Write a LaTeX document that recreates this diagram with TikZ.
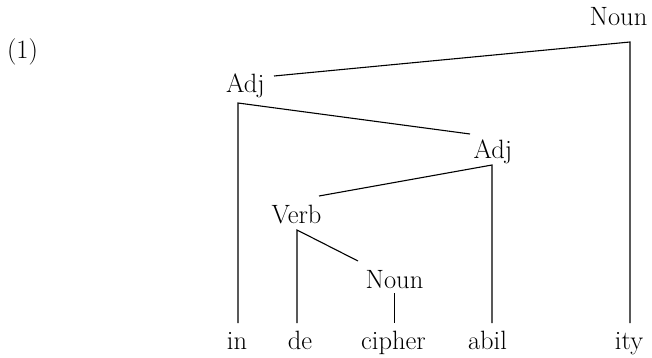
\documentclass[tikz,border=0pt]{standalone}
\begin{document}
\begin{tikzpicture}[x=1pt,y=-1pt,
  lbl/.style={anchor=base,inner sep=0pt,outer sep=0pt,font=\fontsize{26.5}{30}\selectfont},
  edge/.style={line width=1.1pt,line cap=butt,line join=miter}]
\useasboundingbox (0,0) rectangle (652,358);
% labels
\node[lbl] (ex) at (22.5,58.5) {(1)};
\node[lbl] (nountop) at (618.5,26) {Noun};
\node[lbl] (adjA) at (245.5,93) {Adj};
\node[lbl] (adjB) at (493,158) {Adj};
\node[lbl] (verb) at (296.5,223) {Verb};
\node[lbl] (nounB) at (394.5,288) {Noun};
\node[lbl] (win) at (237,349) {in};
\node[lbl] (wde) at (300,349) {de};
\node[lbl] (wcipher) at (393.5,349) {cipher};
\node[lbl] (wabil) at (487.5,349) {abil};
\node[lbl] (wity) at (629,349) {ity};
% branch points
\coordinate (cNoun) at (630,42);
\coordinate (eAdjA) at (274,76);
\coordinate (cAdjA) at (238,103);
\coordinate (eAdjB) at (470,134);
\coordinate (cAdjB) at (492,165);
\coordinate (eVerb) at (319,196);
\coordinate (cVerb) at (297,230);
\coordinate (eNounB) at (358,261);
\coordinate (cNounB) at (394.5,293);
\coordinate (tin) at (238,323);
\coordinate (tde) at (297,323);
\coordinate (tcipher) at (394.5,323);
\coordinate (tabil) at (492,323);
\coordinate (tity) at (630,323);
% connectors
\draw[edge] (eAdjA) -- (cNoun) -- (tity);
\draw[edge] (eAdjB) -- (cAdjA) -- (tin);
\draw[edge] (eVerb) -- (cAdjB) -- (tabil);
\draw[edge] (eNounB) -- (cVerb) -- (tde);
\draw[edge] (cNounB) -- (tcipher);
\end{tikzpicture}
\end{document}
